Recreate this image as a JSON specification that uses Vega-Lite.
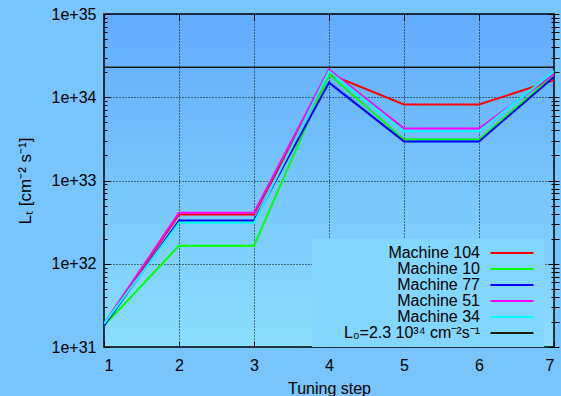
{
  "$schema": "https://vega.github.io/schema/vega-lite/v6.json",
  "width": 450,
  "height": 333,
  "autosize": {"type": "none"},
  "padding": {"left": 104, "top": 14, "right": 7, "bottom": 49},
  "background": "#78c4fc",
  "config": {
    "font": "Liberation Sans",
    "view": {"stroke": "#000000", "strokeWidth": 1.5,
      "fill": {"gradient": "linear", "x1": 0, "y1": 0, "x2": 0, "y2": 1,
        "stops": [{"offset": 0, "color": "#62abfd"}, {"offset": 1, "color": "#8adffc"}]}},
    "axis": {"labelFontSize": 16, "titleFontSize": 16, "titleFontWeight": "normal", "labelColor": "#000000", "titleColor": "#000000", "domain": false, "tickColor": "#000000", "tickWidth": 1, "gridColor": "#000000", "gridDash": [1, 2], "gridWidth": 1}
  },
  "datasets": {
    "machines": [
      {"series": "Machine 104", "step": 1, "L": 1.8e31},
      {"series": "Machine 104", "step": 2, "L": 3.9e32},
      {"series": "Machine 104", "step": 3, "L": 3.9e32},
      {"series": "Machine 104", "step": 4, "L": 1.9e34},
      {"series": "Machine 104", "step": 5, "L": 8.2e33},
      {"series": "Machine 104", "step": 6, "L": 8.2e33},
      {"series": "Machine 104", "step": 7, "L": 1.6e34},
      {"series": "Machine 10", "step": 1, "L": 1.8e31},
      {"series": "Machine 10", "step": 2, "L": 1.65e32},
      {"series": "Machine 10", "step": 3, "L": 1.65e32},
      {"series": "Machine 10", "step": 4, "L": 1.9e34},
      {"series": "Machine 10", "step": 5, "L": 3.1e33},
      {"series": "Machine 10", "step": 6, "L": 3.1e33},
      {"series": "Machine 10", "step": 7, "L": 1.85e34},
      {"series": "Machine 77", "step": 1, "L": 1.8e31},
      {"series": "Machine 77", "step": 2, "L": 3.3e32},
      {"series": "Machine 77", "step": 3, "L": 3.3e32},
      {"series": "Machine 77", "step": 4, "L": 1.5e34},
      {"series": "Machine 77", "step": 5, "L": 2.95e33},
      {"series": "Machine 77", "step": 6, "L": 2.95e33},
      {"series": "Machine 77", "step": 7, "L": 1.75e34},
      {"series": "Machine 51", "step": 1, "L": 1.9e31},
      {"series": "Machine 51", "step": 2, "L": 4.1e32},
      {"series": "Machine 51", "step": 3, "L": 4.1e32},
      {"series": "Machine 51", "step": 4, "L": 2.15e34},
      {"series": "Machine 51", "step": 5, "L": 4.2e33},
      {"series": "Machine 51", "step": 6, "L": 4.2e33},
      {"series": "Machine 51", "step": 7, "L": 1.9e34},
      {"series": "Machine 34", "step": 1, "L": 1.9e31},
      {"series": "Machine 34", "step": 2, "L": 3.1e32},
      {"series": "Machine 34", "step": 3, "L": 3.1e32},
      {"series": "Machine 34", "step": 4, "L": 2.05e34},
      {"series": "Machine 34", "step": 5, "L": 3.9e33},
      {"series": "Machine 34", "step": 6, "L": 3.9e33},
      {"series": "Machine 34", "step": 7, "L": 2.05e34}
    ],
    "ref": [
      {"series": "L₀=2.3 10³⁴ cm⁻²s⁻¹", "L": 2.3e34}
    ]
  },
  "layer": [
    {
      "data": {"name": "machines"},
      "mark": {"type": "line", "strokeWidth": 2, "clip": true},
      "encoding": {
        "x": {"field": "step", "type": "quantitative",
          "scale": {"domain": [1, 7], "nice": false, "zero": false},
          "axis": {"orient": "bottom", "title": "Tuning step", "values": [1, 2, 3, 4, 5, 6, 7], "format": "d", "tickSize": -6, "labelPadding": 16, "titlePadding": 7, "grid": true, "gridOpacity": {"condition": {"test": "datum.value > 1 && datum.value < 7", "value": 1}, "value": 0}}},
        "y": {"field": "L", "type": "quantitative",
          "scale": {"type": "log", "domain": [1e31, 1e35], "nice": false},
          "axis": {"orient": "left", "title": "Lₜ [cm⁻² s⁻¹]", "titleFontSize": 17, "titlePadding": 17,
            "values": [1e31, 2e31, 3e31, 4e31, 5e31, 6e31, 7e31, 8e31, 9e31, 1e32, 2e32, 3e32, 4e32, 5e32, 6e32, 7e32, 8e32, 9e32, 1e33, 2e33, 3e33, 4e33, 5e33, 6e33, 7e33, 8e33, 9e33, 1e34, 2e34, 3e34, 4e34, 5e34, 6e34, 7e34, 8e34, 9e34, 1e35],
            "labelExpr": "abs(log(datum.value)/LN10 - round(log(datum.value)/LN10)) < 0.001 ? format(datum.value, '.0e') : ''",
            "labelPadding": 14,
            "tickSize": {"condition": {"test": "abs(log(datum.value)/LN10 - round(log(datum.value)/LN10)) < 0.001", "value": -6}, "value": -3},
            "grid": true,
            "gridOpacity": {"condition": {"test": "abs(log(datum.value)/LN10 - round(log(datum.value)/LN10)) < 0.001 && datum.value > 2e31 && datum.value < 5e34", "value": 1}, "value": 0}}},
        "color": {"field": "series", "type": "nominal",
          "scale": {"domain": ["Machine 104", "Machine 10", "Machine 77", "Machine 51", "Machine 34", "L₀=2.3 10³⁴ cm⁻²s⁻¹"],
            "range": ["#ff0000", "#00ff00", "#0000ff", "#ff00ff", "#00ffff", "#1a1a1a"]},
          "legend": {"title": null, "orient": "none", "legendX": 208, "legendY": 225, "padding": 6,
            "fillColor": "#83d6fc", "symbolType": "M-3.07,0H3.07", "symbolSize": 196, "symbolStrokeWidth": 2,
            "rowPadding": 0, "labelFontSize": 16, "labelColor": "#000000", "labelAlign": "right",
            "labelOffset": -40, "symbolOffset": 186, "labelLimit": 300}},
        "order": {"value": 0}
      }
    },
    {
      "data": {"name": "ref"},
      "mark": {"type": "rule", "strokeWidth": 1.5},
      "encoding": {
        "y": {"field": "L", "type": "quantitative"},
        "color": {"field": "series", "type": "nominal"}
      }
    },
    {
      "data": {"name": "machines"},
      "mark": {"type": "point", "opacity": 0},
      "encoding": {
        "x": {"field": "step", "type": "quantitative",
          "axis": {"orient": "top", "title": null, "labels": false, "values": [1, 2, 3, 4, 5, 6, 7], "tickSize": -6, "grid": false}},
        "y": {"field": "L", "type": "quantitative",
          "axis": {"orient": "right", "title": null, "labels": false, "grid": false,
            "values": [1e31, 2e31, 3e31, 4e31, 5e31, 6e31, 7e31, 8e31, 9e31, 1e32, 2e32, 3e32, 4e32, 5e32, 6e32, 7e32, 8e32, 9e32, 1e33, 2e33, 3e33, 4e33, 5e33, 6e33, 7e33, 8e33, 9e33, 1e34, 2e34, 3e34, 4e34, 5e34, 6e34, 7e34, 8e34, 9e34, 1e35],
            "tickSize": {"condition": {"test": "abs(log(datum.value)/LN10 - round(log(datum.value)/LN10)) < 0.001", "value": -6}, "value": -3}}}
      }
    }
  ],
  "resolve": {"axis": {"x": "independent", "y": "independent"}}
}
